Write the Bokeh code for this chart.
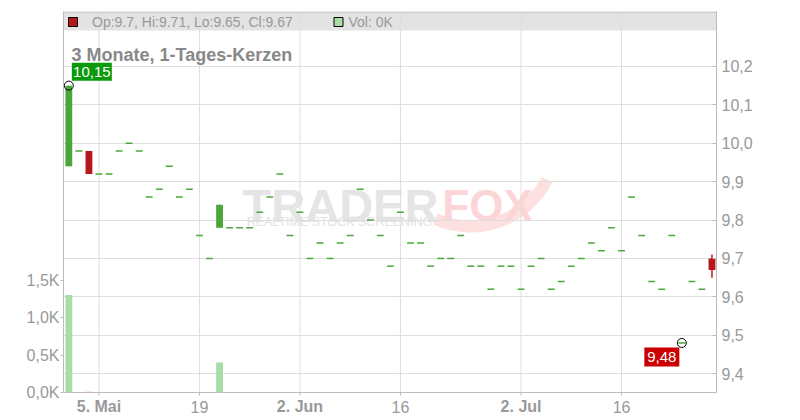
import math
from bokeh.plotting import figure
from bokeh.models import Range1d, LinearAxis, FixedTicker, Label, ColumnDataSource, BoxAnnotation
from bokeh.embed import file_html
from bokeh.resources import INLINE

# ---------------- data ----------------
opens = [9.94, 9.98, 9.98, 9.92, 9.92, 9.98, 10.00, 9.98, 9.86, 9.88,
         9.94, 9.86, 9.88, 9.76, 9.70, 9.78, 9.78, 9.78, 9.78, 9.82,
         9.86, 9.92, 9.76, 9.82, 9.70, 9.74, 9.70, 9.74, 9.76, 9.88,
         9.80, 9.76, 9.68, 9.82, 9.74, 9.74, 9.68, 9.70, 9.70, 9.76,
         9.68, 9.68, 9.62, 9.68, 9.68, 9.62, 9.68, 9.70, 9.62, 9.64,
         9.68, 9.70, 9.74, 9.72, 9.78, 9.72, 9.86, 9.76, 9.64, 9.62,
         9.76, 9.48, 9.64, 9.62, 9.70]
closes = [10.15, 9.98, 9.92, 9.92, 9.92, 9.98, 10.00, 9.98, 9.86, 9.88,
          9.94, 9.86, 9.88, 9.76, 9.70, 9.84, 9.78, 9.78, 9.78, 9.82,
          9.86, 9.92, 9.76, 9.82, 9.70, 9.74, 9.70, 9.74, 9.76, 9.88,
          9.80, 9.76, 9.68, 9.82, 9.74, 9.74, 9.68, 9.70, 9.70, 9.76,
          9.68, 9.68, 9.62, 9.68, 9.68, 9.62, 9.68, 9.70, 9.62, 9.64,
          9.68, 9.70, 9.74, 9.72, 9.78, 9.72, 9.86, 9.76, 9.64, 9.62,
          9.76, 9.48, 9.64, 9.62, 9.67]
highs = [10.15, 9.98, 9.98, 9.92, 9.92, 9.98, 10.00, 9.98, 9.86, 9.88,
         9.94, 9.86, 9.88, 9.76, 9.70, 9.84, 9.78, 9.78, 9.78, 9.82,
         9.86, 9.92, 9.76, 9.82, 9.70, 9.74, 9.70, 9.74, 9.76, 9.88,
         9.80, 9.76, 9.68, 9.82, 9.74, 9.74, 9.68, 9.70, 9.70, 9.76,
         9.68, 9.68, 9.62, 9.68, 9.68, 9.62, 9.68, 9.70, 9.62, 9.64,
         9.68, 9.70, 9.74, 9.72, 9.78, 9.72, 9.86, 9.76, 9.64, 9.62,
         9.76, 9.48, 9.64, 9.62, 9.71]
lows = [9.94, 9.98, 9.92, 9.92, 9.92, 9.98, 10.00, 9.98, 9.86, 9.88,
        9.94, 9.86, 9.88, 9.76, 9.70, 9.78, 9.78, 9.78, 9.78, 9.82,
        9.86, 9.92, 9.76, 9.82, 9.70, 9.74, 9.70, 9.74, 9.76, 9.88,
        9.80, 9.76, 9.68, 9.82, 9.74, 9.74, 9.68, 9.70, 9.70, 9.76,
        9.68, 9.68, 9.62, 9.68, 9.68, 9.62, 9.68, 9.70, 9.62, 9.64,
        9.68, 9.70, 9.74, 9.72, 9.78, 9.72, 9.86, 9.76, 9.64, 9.62,
        9.76, 9.48, 9.64, 9.62, 9.65]
volumes = [1300, 0, 10, 0, 0, 0, 0, 0, 0, 0,
           0, 0, 0, 0, 0, 400, 0, 0, 0, 0,
           0, 0, 0, 0, 0, 0, 0, 0, 0, 0,
           0, 0, 0, 0, 0, 0, 0, 0, 0, 0,
           0, 0, 0, 0, 0, 0, 0, 0, 0, 0,
           0, 0, 0, 0, 0, 0, 0, 0, 0, 0,
           0, 0, 0, 0, 0]

date_tick_idx = [3, 13, 23, 33, 45, 55]
date_tick_labels = ["5. Mai", "19", "2. Jun", "16", "2. Jul", "16"]
date_tick_bold = [True, False, True, False, True, False]

price_ticks = [9.4, 9.5, 9.6, 9.7, 9.8, 9.9, 10.0, 10.1, 10.2]
price_tick_labels = ["9,4", "9,5", "9,6", "9,7", "9,8", "9,9", "10,0", "10,1", "10,2"]
vol_ticks = [0, 500, 1000, 1500]
vol_tick_labels = ["0,0K", "0,5K", "1,0K", "1,5K"]

title_text = "3 Monate, 1-Tages-Kerzen"

# ---------------- styling / layout ----------------
FONT = "Liberation Sans"
GREEN = "#4aa83a"
RED = "#b5171b"
VGREEN = "#a8dca8"
VRED = "#eaa8a8"
AXIS_COL = "#bbbbbb"
GRID_COL = "#dedede"
TXT_COL = "#999999"

# frame covers the chart area plus the date-label strip below it
FL, FT, FW, FH = 63, 11, 653, 409
BASE_PX = 392                        # pixel row of the chart's bottom (volume 0)
X0, X1 = -0.53, 64.45
Y1 = 10.343
DY = 0.992 / 381                     # price per pixel
Y0 = Y1 - FH * DY
YB = Y1 - (BASE_PX - FT) * DY        # price at chart bottom
VPP = 1000 / 75                      # volume per pixel
V0, V1 = -(FT + FH - BASE_PX) * VPP, (BASE_PX - FT) * VPP
DX = (X1 - X0) / FW


def px_x(px):
    return X0 + (px - FL) * DX


def px_y(py):
    return Y1 - (py - FT) * DY


p = figure(width=800, height=420, x_range=Range1d(X0, X1), y_range=Range1d(Y0, Y1),
           y_axis_location="right", output_backend="svg", toolbar_location=None,
           min_border_left=FL, min_border_right=800 - FL - FW, min_border_top=FT,
           min_border_bottom=0)
p.extra_y_ranges = {"vol": Range1d(V0, V1)}
p.background_fill_color = "white"
p.border_fill_color = "white"
p.outline_line_color = None
p.xaxis.visible = False
p.xgrid.visible = False

# header band (under grid)
p.add_layout(BoxAnnotation(bottom=px_y(30), top=Y1, fill_color="#e3e3e3", fill_alpha=1,
                           line_color=None, level="image"))

# watermark
p.add_layout(Label(x=px_x(340), y=px_y(205), text="TRADER", text_font=FONT, text_font_size="47px",
                   text_font_style="bold", text_color="#e5e5e5", text_align="center",
                   text_baseline="alphabetic", level="image"))
p.annular_wedge(x=[px_x(470)], y=[px_y(140)], inner_radius=80, outer_radius=92,
                inner_radius_units="screen", outer_radius_units="screen",
                start_angle=math.radians(246), end_angle=math.radians(333),
                fill_color="#fde0e0", line_color=None, level="image")
p.add_layout(Label(x=px_x(487), y=px_y(205), text="FOX", text_font=FONT, text_font_size="44px",
                   text_font_style="bold", text_color="#fcd6d6", text_align="center",
                   text_baseline="alphabetic", level="image"))
p.add_layout(Label(x=px_x(339), y=px_y(221.5), text="REALTIME STOCK SCREENING", text_font=FONT,
                   text_font_size="12.5px", text_color="#e2e2e2", text_align="center",
                   text_baseline="alphabetic", level="image"))

# grids
p.ygrid.grid_line_color = GRID_COL
p.segment(x0=date_tick_idx, y0=[YB] * len(date_tick_idx), x1=date_tick_idx,
          y1=[Y1] * len(date_tick_idx), line_color=GRID_COL, line_width=1, level="underlay")

# frame top line, chart bottom line, date ticks
p.segment(x0=[X0], y0=[px_y(11.5)], x1=[X1], y1=[px_y(11.5)], line_color=AXIS_COL, line_width=1)
p.segment(x0=[X0], y0=[YB], x1=[X1], y1=[YB], line_color=AXIS_COL, line_width=1)
p.segment(x0=date_tick_idx, y0=[YB] * len(date_tick_idx), x1=date_tick_idx,
          y1=[YB - 3 * DY] * len(date_tick_idx), line_color=AXIS_COL, line_width=1)

# price axis (right)
pa = p.yaxis[0]
pa.ticker = FixedTicker(ticks=price_ticks)
pa.bounds = (YB, Y1)
pa.major_label_overrides = dict(zip(price_ticks, price_tick_labels))
pa.axis_line_color = AXIS_COL
pa.major_tick_line_color = AXIS_COL
pa.major_tick_in = 4
pa.major_tick_out = 0
pa.minor_tick_line_color = None
pa.major_label_standoff = 5
pa.major_label_text_font = FONT
pa.major_label_text_font_size = "16px"
pa.major_label_text_color = TXT_COL

# volume axis (left)
va = LinearAxis(y_range_name="vol", ticker=FixedTicker(ticks=vol_ticks), bounds=(0, V1))
va.major_label_overrides = dict(zip(vol_ticks, vol_tick_labels))
va.axis_line_color = AXIS_COL
va.major_tick_line_color = AXIS_COL
va.major_tick_in = 0
va.major_tick_out = 3
va.minor_tick_line_color = None
va.major_label_standoff = 1
va.major_label_text_font = FONT
va.major_label_text_font_size = "16px"
va.major_label_text_color = TXT_COL
p.add_layout(va, "left")

# date labels (month starts in bold)
for t, lab, b in zip(date_tick_idx, date_tick_labels, date_tick_bold):
    p.add_layout(Label(x=t, y=px_y(406), text=lab, text_font=FONT, text_font_size="16px",
                       text_font_style="bold" if b else "normal", text_color=TXT_COL,
                       text_align="center", text_baseline="middle"))

# ---------------- candles ----------------
n = len(opens)
idx = list(range(n))
up = [c >= o for o, c in zip(opens, closes)]
col = [GREEN if u else RED for u in up]
vcol = [VGREEN if u else VRED for u in up]
W = 0.68

src = ColumnDataSource(dict(x=idx, o=opens, c=closes, h=highs, l=lows,
                            top=[max(a, b) for a, b in zip(opens, closes)],
                            bot=[min(a, b) for a, b in zip(opens, closes)],
                            x0=[i - W / 2 for i in idx], x1=[i + W / 2 for i in idx],
                            col=col, vcol=vcol, vol=volumes))

body_rows = [i for i in idx if opens[i] != closes[i]]
doji_rows = [i for i in idx if opens[i] == closes[i]]
body = ColumnDataSource({k: [v[i] for i in body_rows] for k, v in src.data.items()})
doji = ColumnDataSource({k: [v[i] for i in doji_rows] for k, v in src.data.items()})

# volume bars
p.vbar(x="x", top="vol", bottom=0, width=W, fill_color="vcol", line_color=None,
       y_range_name="vol", source=src)
# wicks
p.segment(x0="x", y0="l", x1="x", y1="h", line_color="col", line_width=1.5, source=src)
# bodies
p.vbar(x="x", top="top", bottom="bot", width=W, fill_color="col", line_color=None, source=body)
# open == close dashes
p.segment(x0="x0", y0="o", x1="x1", y1="o", line_color="col", line_width=1.5, source=doji)

# high / low markers
hi_i = max(idx, key=lambda i: highs[i])
lo_i = min(idx, key=lambda i: lows[i])
p.scatter([hi_i, lo_i], [highs[hi_i], lows[lo_i]], size=9, marker="circle",
          fill_color=None, line_color="black", line_width=1)


def fmt(v):
    return f"{v:.2f}".replace(".", ",")


# value tags: box offsets in pixels from the marker
hx, hy = hi_i + 23 * DX, highs[hi_i] + 14 * DY
lx, ly = lo_i - 20 * DX, lows[lo_i] - 14 * DY
p.rect([hx], [hy], width=40, height=18, width_units="screen", height_units="screen",
       fill_color="#0b9a0b", line_color=None)
p.add_layout(Label(x=hx, y=hy, text=fmt(highs[hi_i]), text_font=FONT, text_font_size="15px",
                   text_color="white", text_align="center", text_baseline="middle"))
p.rect([lx], [ly], width=35, height=19, width_units="screen", height_units="screen",
       fill_color="#cc0000", line_color=None)
p.add_layout(Label(x=lx, y=ly, text=fmt(lows[lo_i]), text_font=FONT, text_font_size="15px",
                   text_color="white", text_align="center", text_baseline="middle"))

# ---------------- header ----------------
lo_, hi_, op_, cl_ = lows[-1], highs[-1], opens[-1], closes[-1]
hdr = f"Op:{op_:g}, Hi:{hi_:g}, Lo:{lo_:g}, Cl:{cl_:g}"
p.rect([px_x(72.5)], [px_y(21.5)], width=9, height=9, width_units="screen", height_units="screen",
       fill_color=col[-1], line_color="black", line_width=1)
p.add_layout(Label(x=px_x(91.5), y=px_y(21), text=hdr, text_font=FONT, text_font_size="14px",
                   text_color=TXT_COL, text_align="left", text_baseline="middle"))
p.rect([px_x(338)], [px_y(21.5)], width=9, height=9, width_units="screen", height_units="screen",
       fill_color=VGREEN, line_color="black", line_width=1)
p.add_layout(Label(x=px_x(348), y=px_y(21), text=f"Vol: {volumes[-1] / 1000:.0f}K", text_font=FONT,
                   text_font_size="14px", text_color=TXT_COL, text_align="left",
                   text_baseline="middle"))

# title
p.add_layout(Label(x=px_x(71), y=px_y(54), text=title_text, text_font=FONT, text_font_size="18px",
                   text_font_style="bold", text_color="#888888", text_align="left",
                   text_baseline="alphabetic"))

open("out.html", "w").write(file_html(p, INLINE))
